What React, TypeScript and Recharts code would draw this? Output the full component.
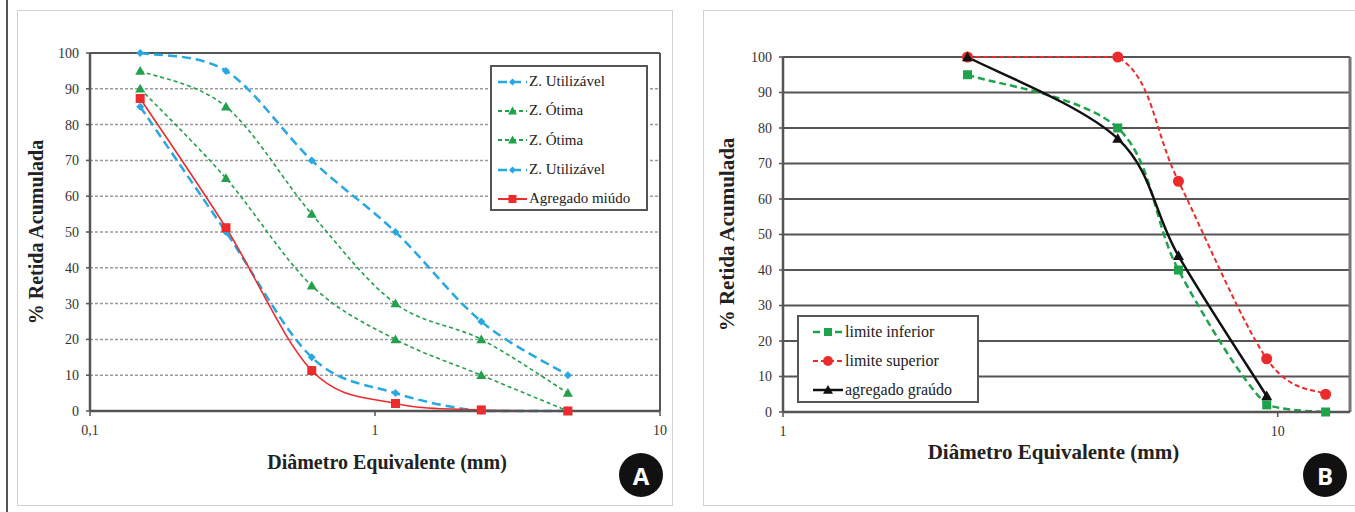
import React from "react";
import {
  LineChart,
  Line,
  XAxis,
  YAxis,
  CartesianGrid,
  ReferenceLine,
  Legend,
} from "recharts";

// peneiras (mm) e % retida acumulada
const sieveFine = [0.15, 0.3, 0.6, 1.18, 2.36, 4.75];
const utilUpper = [100, 95, 70, 50, 25, 10];
const otimaUpper = [95, 85, 55, 30, 20, 5];
const otimaLower = [90, 65, 35, 20, 10, 0];
const utilLower = [85, 50, 15, 5, 0, 0];
const miudo = [87.3, 51.2, 11.3, 2.1, 0.3, 0];

const sieveCoarse = [2.36, 4.75, 6.3, 9.5, 12.5];
const limInf = [95, 80, 40, 2, 0];
const limSup = [100, 100, 65, 15, 5];
const graudo = [100, 77, 44, 4.5, null];

const yTicks = [0, 10, 20, 30, 40, 50, 60, 70, 80, 90, 100];
const xTicksFine = [0.1, 1, 10];
const xTicksCoarse = [1, 10];

const fineData = sieveFine.map((d, i) => ({
  d,
  utilUpper: utilUpper[i],
  otimaUpper: otimaUpper[i],
  otimaLower: otimaLower[i],
  utilLower: utilLower[i],
  miudo: miudo[i],
}));

const coarseData = sieveCoarse.map((d, i) => ({
  d,
  limInf: limInf[i],
  limSup: limSup[i],
  graudo: graudo[i],
}));

const SERIF = "'Liberation Serif', 'DejaVu Serif', serif";
const BLUE = "#27a8e3";
const GREEN = "#23a04c";
const RED = "#ec2c2c";

type Shape = "diamond" | "triangle" | "square" | "circle";

interface SeriesCfg {
  key: string;
  name: string;
  color: string;
  dash?: string;
  width: number;
  shape: Shape;
  size: number;
}

const fineSeries: SeriesCfg[] = [
  { key: "utilUpper", name: "Z. Utilizável", color: BLUE, dash: "9 5", width: 2.5, shape: "diamond", size: 8 },
  { key: "otimaUpper", name: "Z. Ótima", color: GREEN, dash: "4 3", width: 1.6, shape: "triangle", size: 10 },
  { key: "otimaLower", name: "Z. Ótima", color: GREEN, dash: "4 3", width: 1.6, shape: "triangle", size: 10 },
  { key: "utilLower", name: "Z. Utilizável", color: BLUE, dash: "9 5", width: 2.5, shape: "diamond", size: 8 },
  { key: "miudo", name: "Agregado miúdo", color: RED, width: 1.6, shape: "square", size: 9 },
];

const coarseSeries: SeriesCfg[] = [
  { key: "limInf", name: "limite inferior", color: "#1fa24c", dash: "7 4", width: 2.5, shape: "square", size: 9 },
  { key: "limSup", name: "limite superior", color: RED, dash: "5 3", width: 2, shape: "circle", size: 11 },
  { key: "graudo", name: "agregado graúdo", color: "#111", width: 2.5, shape: "triangle", size: 11 },
];

// suavização tipo Excel (Catmull-Rom), sem ultrapassar os pontos em y
const clamp = (v: number, a: number, b: number) => Math.min(Math.max(v, Math.min(a, b)), Math.max(a, b));
const smooth = (context: any) => {
  let pts: number[][] = [];
  return {
    areaStart() {},
    areaEnd() {},
    lineStart() {
      pts = [];
    },
    lineEnd() {
      if (!pts.length) return;
      context.moveTo(pts[0][0], pts[0][1]);
      for (let i = 0; i < pts.length - 1; i++) {
        const p0 = pts[i - 1] || pts[i];
        const p1 = pts[i];
        const p2 = pts[i + 1];
        const p3 = pts[i + 2] || p2;
        context.bezierCurveTo(
          p1[0] + (p2[0] - p0[0]) / 6,
          clamp(p1[1] + (p2[1] - p0[1]) / 6, p1[1], p2[1]),
          p2[0] - (p3[0] - p1[0]) / 6,
          clamp(p2[1] - (p3[1] - p1[1]) / 6, p1[1], p2[1]),
          p2[0],
          p2[1]
        );
      }
    },
    point(x: number, y: number) {
      pts.push([+x, +y]);
    },
  };
};

function Marker({ shape, cx, cy, size, color }: { shape: Shape; cx: number; cy: number; size: number; color: string }) {
  const h = size / 2;
  if (shape === "diamond")
    return <polygon points={`${cx},${cy - h} ${cx + h},${cy} ${cx},${cy + h} ${cx - h},${cy}`} fill={color} />;
  if (shape === "triangle")
    return <polygon points={`${cx},${cy - h} ${cx + h},${cy + h * 0.75} ${cx - h},${cy + h * 0.75}`} fill={color} />;
  if (shape === "square") return <rect x={cx - h} y={cy - h} width={size} height={size} fill={color} />;
  return <circle cx={cx} cy={cy} r={h} fill={color} />;
}

const dotFor = (s: SeriesCfg) => (p: any) => {
  if (p.cx == null || p.cy == null || p.value == null) return <g key={`${s.key}-${p.index}`} />;
  return (
    <g key={`${s.key}-${p.index}`}>
      <Marker shape={s.shape} cx={p.cx} cy={p.cy} size={s.size} color={s.color} />
    </g>
  );
};

function LegendBox({
  items,
  width,
  height,
  rowH,
  padLeft,
  sampleW,
  fontSize,
}: {
  items: SeriesCfg[];
  width: number;
  height: number;
  rowH: number;
  padLeft: number;
  sampleW: number;
  fontSize: number;
}) {
  return (
    <div
      style={{
        width,
        height,
        boxSizing: "border-box",
        border: "2px solid #555",
        background: "#fff",
        paddingLeft: padLeft,
        fontFamily: SERIF,
        fontSize,
        color: "#222",
      }}
    >
      {items.map((it, i) => (
        <div key={i} style={{ height: rowH, display: "flex", alignItems: "center", whiteSpace: "nowrap" }}>
          <svg width={sampleW} height={14} style={{ display: "block", marginRight: 2 }}>
            <line
              x1={0}
              y1={7}
              x2={sampleW}
              y2={7}
              stroke={it.color}
              strokeWidth={Math.max(it.width, 2)}
              strokeDasharray={it.dash}
            />
            <Marker shape={it.shape} cx={sampleW / 2} cy={7} size={it.size - 1} color={it.color} />
          </svg>
          <span>{it.name}</span>
        </div>
      ))}
    </div>
  );
}

const xTitle = (dx: number, dy: number, size: number) => (props: any) => {
  const { x, y, width, height } = props.viewBox;
  return (
    <text
      x={x + width / 2 + dx}
      y={y + height + dy}
      textAnchor="middle"
      fontFamily={SERIF}
      fontWeight="bold"
      fontSize={size}
      fill="#222"
    >
      Diâmetro Equivalente (mm)
    </text>
  );
};

const yTitle = (cxOff: number, size: number) => (props: any) => {
  const { x, y, height } = props.viewBox;
  const cx = x + cxOff;
  const cy = y + height / 2;
  return (
    <text
      x={cx}
      y={cy}
      transform={`rotate(-90 ${cx} ${cy})`}
      textAnchor="middle"
      dominantBaseline="central"
      fontFamily={SERIF}
      fontWeight="bold"
      fontSize={size}
      fill="#222"
    >
      % Retida Acumulada
    </text>
  );
};

const tickStyle = { fontSize: 14, fill: "#333", fontFamily: SERIF };
const fmtX = (v: number) => String(v).replace(".", ",");

function Badge({ left, top, letter }: { left: number; top: number; letter: string }) {
  return (
    <div
      style={{
        position: "absolute",
        left: left - 22,
        top: top - 22,
        width: 44,
        height: 44,
        borderRadius: "50%",
        background: "#111",
        color: "#fff",
        display: "flex",
        alignItems: "center",
        justifyContent: "center",
        fontFamily: "'Open Sans', 'DejaVu Sans', sans-serif",
        fontWeight: 700,
        fontSize: 24,
      }}
    >
      {letter}
    </div>
  );
}

export default function App() {
  return (
    <div style={{ position: "absolute", left: 0, top: 0, width: 1355, height: 512, overflow: "hidden", background: "#fff" }}>
      <div style={{ position: "absolute", left: 6, top: 0, width: 2, height: 512, background: "#555" }} />
      <div
        style={{ position: "absolute", left: 17, top: 10, width: 656, height: 496, boxSizing: "border-box", border: "1px solid #d2d2d2" }}
      />
      <div
        style={{ position: "absolute", left: 703, top: 10, width: 700, height: 496, boxSizing: "border-box", border: "1px solid #d2d2d2" }}
      />

      {/* painel A */}
      <div style={{ position: "absolute", left: 17, top: 10 }}>
        <LineChart width={655} height={495} data={fineData} margin={{ top: 43, right: 12, bottom: 64, left: 0 }}>
          <CartesianGrid vertical={false} stroke="#9a9a9a" strokeDasharray="3 2" strokeWidth={1.5} />
          <XAxis
            dataKey="d"
            type="number"
            scale="log"
            domain={[0.1, 10]}
            ticks={xTicksFine}
            tickFormatter={fmtX}
            height={30}
            tick={tickStyle}
            tickSize={5}
            tickMargin={9}
            axisLine={{ stroke: "#555", strokeWidth: 2.5 }}
            tickLine={{ stroke: "#555", strokeWidth: 1.5 }}
            label={{ content: xTitle(12, 28, 20) }}
          />
          <YAxis
            type="number"
            domain={[0, 100]}
            ticks={yTicks}
            width={73}
            tick={tickStyle}
            tickSize={4}
            tickMargin={7}
            axisLine={{ stroke: "#555", strokeWidth: 2.5 }}
            tickLine={{ stroke: "#555", strokeWidth: 1.5 }}
            label={{ content: yTitle(19, 20) }}
          />
          <ReferenceLine y={100} stroke="#555" strokeWidth={2} />
          <ReferenceLine x={10} stroke="#555" strokeWidth={2} />
          {fineSeries.map((s) => (
            <Line
              key={s.key}
              dataKey={s.key}
              name={s.name}
              type={smooth as any}
              stroke={s.color}
              strokeWidth={s.width}
              strokeDasharray={s.dash}
              dot={dotFor(s)}
              activeDot={false}
              isAnimationActive={false}
            />
          ))}
          <Legend
            layout="horizontal"
            verticalAlign="middle"
            align="center"
            wrapperStyle={{ left: 473, top: 55, width: 158, height: 146 }}
            content={() => (
              <LegendBox items={fineSeries} width={158} height={146} rowH={29.3} padLeft={6} sampleW={29} fontSize={15} />
            )}
          />
        </LineChart>
      </div>

      {/* painel B */}
      <div style={{ position: "absolute", left: 703, top: 10 }}>
        <LineChart width={652} height={495} data={coarseData} margin={{ top: 47, right: 5, bottom: 63, left: 0 }}>
          <CartesianGrid vertical={false} stroke="#555" strokeWidth={2} />
          <XAxis
            dataKey="d"
            type="number"
            scale="log"
            domain={[1, 14]}
            ticks={xTicksCoarse}
            tickFormatter={fmtX}
            height={30}
            tick={tickStyle}
            tickSize={5}
            tickMargin={9}
            axisLine={{ stroke: "#555", strokeWidth: 2.5 }}
            tickLine={{ stroke: "#555", strokeWidth: 1.5 }}
            label={{ content: xTitle(-13, 17, 21) }}
          />
          <YAxis
            type="number"
            domain={[0, 100]}
            ticks={yTicks}
            width={80}
            tick={tickStyle}
            tickSize={4}
            tickMargin={7}
            axisLine={{ stroke: "#555", strokeWidth: 2.5 }}
            tickLine={{ stroke: "#555", strokeWidth: 1.5 }}
            label={{ content: yTitle(24, 21) }}
          />
          <ReferenceLine x={14} stroke="#777" strokeWidth={3} />
          {coarseSeries.map((s) => (
            <Line
              key={s.key}
              dataKey={s.key}
              name={s.name}
              type={smooth as any}
              stroke={s.color}
              strokeWidth={s.width}
              strokeDasharray={s.dash}
              dot={dotFor(s)}
              activeDot={false}
              connectNulls={false}
              isAnimationActive={false}
            />
          ))}
          <Legend
            layout="horizontal"
            verticalAlign="middle"
            align="center"
            wrapperStyle={{ left: 94, top: 305, width: 182, height: 88 }}
            content={() => (
              <LegendBox items={coarseSeries} width={182} height={88} rowH={29} padLeft={14} sampleW={30} fontSize={16} />
            )}
          />
        </LineChart>
      </div>

      <Badge left={641} top={475} letter="A" />
      <Badge left={1325} top={475} letter="B" />
    </div>
  );
}
